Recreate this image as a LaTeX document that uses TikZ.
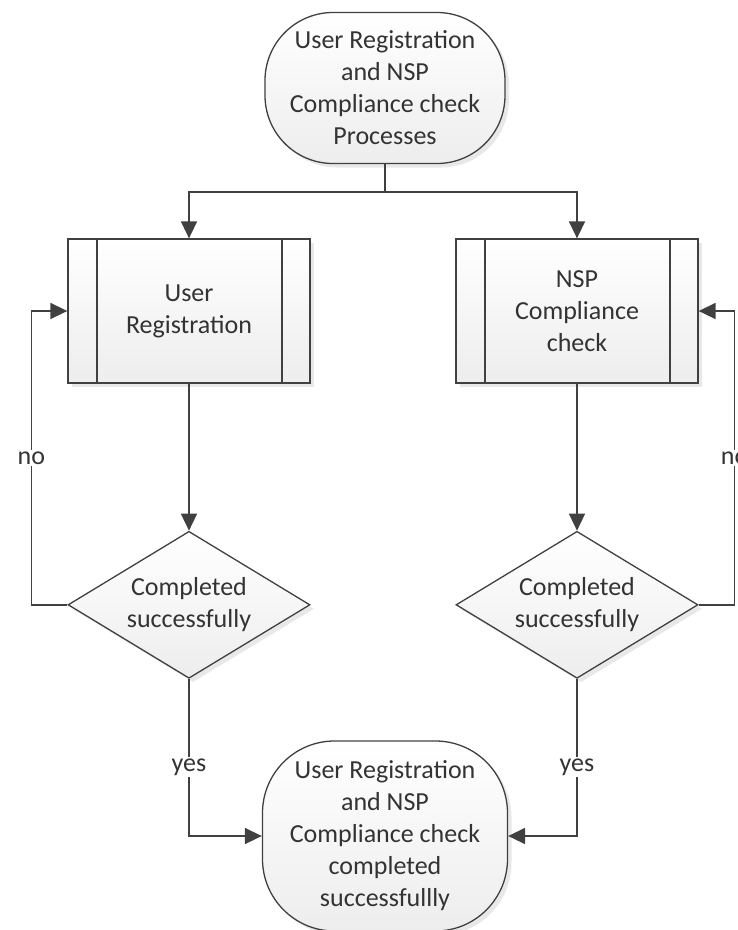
\documentclass[tikz,border=0pt]{standalone}
\usepackage{fontspec}
\setmainfont{Carlito}
\usetikzlibrary{shapes.geometric,arrows.meta,positioning,shadows}
\definecolor{linegray}{HTML}{404040}
\definecolor{textgray}{HTML}{333333}
\tikzstyle{arrow} = [line width=1.6pt,draw=linegray,->]
\tikzstyle{shade} = [top color=white, bottom color=gray!14, drop shadow={shadow xshift=4pt, shadow yshift=-4pt, opacity=0.18, fill=gray}]
\tikzstyle{term} = [shade, draw=linegray, line width=1.3pt, rectangle, rounded corners=68pt, minimum width=240pt, align=center, inner sep=0pt]
\tikzstyle{proc} = [shade, draw=linegray, line width=1.3pt, rectangle, minimum width=242pt, minimum height=144pt, align=center,
  path picture={\draw[linegray, line width=1.3pt] ([xshift=29pt]path picture bounding box.north west) -- ([xshift=29pt]path picture bounding box.south west)
    ([xshift=-28pt]path picture bounding box.north east) -- ([xshift=-28pt]path picture bounding box.south east);}]
\tikzstyle{decision} = [shade, draw=linegray, line width=1.3pt, diamond, aspect=1.65, minimum width=242pt, minimum height=147pt, align=center, inner sep=0pt]
\tikzstyle{lbl} = [fill=white, inner sep=2pt]

\begin{document}
\begin{tikzpicture}[x=1pt, y=-1pt, >={Triangle[length=17pt,width=16pt]}, every node/.style={font=\fontsize{26}{32}\selectfont, text=textgray}]
  \useasboundingbox (0,0) rectangle (738,930);

  \node[term, minimum height=151pt] (start) at (385,88) {User Registration\\and NSP\\Compliance check\\Processes};
  \node[proc] (ureg) at (189,311) {User\\Registration};
  \node[proc] (nsp) at (577,311) {NSP\\Compliance\\check};
  \node[decision, below=147pt of ureg] (uregok) {Completed\\successfully};
  \node[decision, below=147pt of nsp] (nspok) {Completed\\successfully};
  \node[term, minimum height=190pt, minimum width=245pt, rounded corners=72pt] (done) at (385,836) {User Registration\\and NSP\\Compliance check\\completed\\successfullly};

  \coordinate (split) at (385,192);
  \draw[line width=1.6pt, linegray] (start) -- (split);
  \draw[arrow] (split) -| (ureg);
  \draw[arrow] (split) -| (nsp);

  \draw[arrow] (ureg) -- (uregok);
  \draw[arrow] (nsp) -- (nspok);

  \draw[arrow] (uregok.west) -- ++(-36,0) |- node[lbl, pos=0.25]{no} (ureg.west);
  \draw[arrow] (nspok.east) -- ++(36,0) |- node[lbl, pos=0.25]{no} (nsp.east);

  \draw[arrow] (uregok.south) |- node[lbl, pos=0.28]{yes} (done.west);
  \draw[arrow] (nspok.south) |- node[lbl, pos=0.28]{yes} (done.east);
\end{tikzpicture}
\end{document}
